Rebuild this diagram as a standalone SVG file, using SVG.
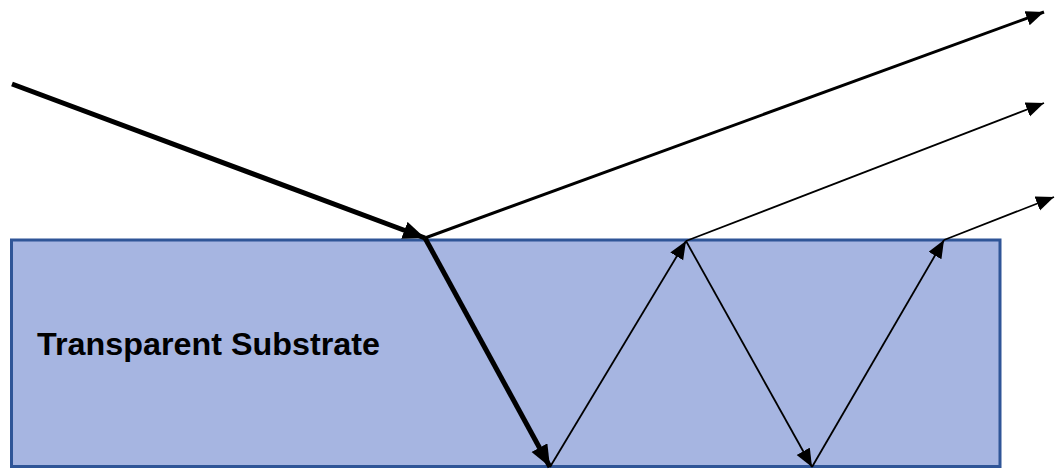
<svg xmlns="http://www.w3.org/2000/svg" width="1057" height="471" viewBox="0 0 1057 471">
<style>
.ray{stroke:#000;fill:none;stroke-linecap:butt}
.thick{stroke-width:5}
.mid{stroke-width:3}
.thin{stroke-width:1.8}
.lbl{font-family:"Liberation Sans",Arial,sans-serif;font-weight:bold;font-size:31px;fill:#000}
</style>
<defs>
<marker id="ah" markerUnits="userSpaceOnUse" markerWidth="26" markerHeight="20" refX="22" refY="9" orient="auto">
<path d="M0,0 L22,9 L0,18 Z" fill="#000"/>
</marker>
<marker id="ahs" markerUnits="userSpaceOnUse" markerWidth="22" markerHeight="18" refX="18" refY="7.5" orient="auto">
<path d="M0,0 L18,7.5 L0,15 Z" fill="#000"/>
</marker>
</defs>
<g id="substrate">
<rect x="11.5" y="240" width="988.5" height="226.5" fill="#A6B5E1" stroke="#2F5597" stroke-width="3"/>
<text class="lbl" x="37" y="355" textLength="343" lengthAdjust="spacingAndGlyphs">Transparent Substrate</text>
</g>
<g id="connectors">
<line class="ray thick" x1="12" y1="84" x2="425" y2="238" marker-end="url(#ah)"/>
<line class="ray thick" x1="425" y1="238" x2="550" y2="467" marker-end="url(#ah)"/>
<line class="ray mid" x1="425" y1="238" x2="1044" y2="12" marker-end="url(#ahs)"/>
<line class="ray thin" x1="550" y1="467" x2="686" y2="241" marker-end="url(#ahs)"/>
<line class="ray thin" x1="686" y1="241" x2="812" y2="467" marker-end="url(#ahs)"/>
<line class="ray thin" x1="812" y1="467" x2="944" y2="240" marker-end="url(#ahs)"/>
<line class="ray thin" x1="686" y1="241" x2="1044" y2="103" marker-end="url(#ahs)"/>
<line class="ray thin" x1="944" y1="240" x2="1054" y2="197" marker-end="url(#ahs)"/>
</g>
</svg>
